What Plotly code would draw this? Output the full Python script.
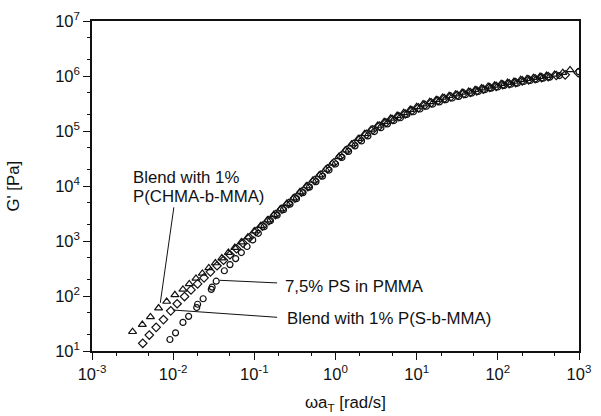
import plotly.graph_objects as go

# Blend with 1% P(CHMA-b-MMA)  (triangles)
chma_w = [0.00316, 0.00417, 0.00525, 0.00661, 0.00832, 0.0105, 0.0132, 0.0158, 0.0191, 0.0229,
          0.0275, 0.0331, 0.0398, 0.0479, 0.0575, 0.0692, 0.0832, 0.100, 0.120, 0.145,
          0.174, 0.209, 0.251, 0.302, 0.363, 0.437, 0.525, 0.631, 0.759, 0.912,
          1.10, 1.32, 1.58, 1.91, 2.29, 2.75, 3.31, 3.98, 4.79, 5.75,
          6.92, 8.32, 10.0, 12.0, 14.5, 17.4, 20.9, 25.1, 30.2, 36.3,
          43.7, 52.5, 63.1, 75.9, 91.2, 110, 132, 158, 191, 229,
          275, 331, 398, 501, 631, 776]
chma_g = [22.4, 30.2, 41.7, 60.3, 79.4, 105, 132, 166, 209, 257,
          324, 398, 490, 617, 759, 955, 1175, 1514, 1905, 2399,
          3020, 3802, 4786, 6026, 7762, 10000, 12590, 15850, 19950, 25700,
          33900, 44700, 57500, 72400, 89100, 107000, 126000, 148000, 170000, 191000,
          214000, 245000, 275000, 309000, 339000, 372000, 407000, 437000, 468000, 501000,
          525000, 562000, 603000, 646000, 676000, 724000, 759000, 794000, 851000, 891000,
          933000, 977000, 1020000, 1070000, 1150000, 1290000]

# Blend with 1% P(S-b-MMA)  (diamonds)
sb_w = [0.00422, 0.00508, 0.00617, 0.00759, 0.00933, 0.0112, 0.0138, 0.0166, 0.0200, 0.0240,
        0.0288, 0.0347, 0.0417, 0.0501, 0.0603, 0.0724, 0.0871, 0.105, 0.126, 0.151,
        0.182, 0.219, 0.263, 0.316, 0.380, 0.457, 0.550, 0.661, 0.794, 0.955,
        1.15, 1.38, 1.66, 2.00, 2.40, 2.88, 3.47, 4.17, 5.01, 6.03,
        7.24, 8.71, 10.5, 12.6, 15.1, 18.2, 21.9, 26.3, 31.6, 38.0,
        45.7, 55.0, 66.1, 79.4, 95.5, 115, 138, 166, 200, 240,
        288, 347, 417, 525, 676, 977]
sb_g = [13.8, 19.5, 26.9, 37.2, 53.7, 72.4, 97.7, 129, 166, 214,
        275, 355, 447, 562, 724, 912, 1148, 1479, 1862, 2344,
        3020, 3802, 4786, 6026, 7762, 9772, 12590, 15850, 20420, 26300,
        34700, 44700, 57500, 70800, 87100, 105000, 123000, 141000, 162000, 182000,
        204000, 234000, 263000, 295000, 324000, 355000, 389000, 417000, 447000, 479000,
        501000, 537000, 575000, 617000, 646000, 692000, 724000, 759000, 813000, 851000,
        891000, 933000, 977000, 1020000, 1050000, 1150000]

# 7,5% PS in PMMA  (circles)
ps_w = [0.00912, 0.0107, 0.0132, 0.0155, 0.0195, 0.0200, 0.0234, 0.0295, 0.0302, 0.0339,
        0.0427, 0.0501, 0.0589, 0.0692, 0.0813, 0.0955, 0.112, 0.132, 0.158, 0.191,
        0.229, 0.275, 0.331, 0.398, 0.479, 0.575, 0.692, 0.832, 1.00, 1.20,
        1.45, 1.74, 2.09, 2.51, 3.02, 3.63, 4.37, 5.25, 6.31, 7.59,
        9.12, 11.0, 13.2, 15.8, 19.1, 22.9, 27.5, 33.1, 39.8, 47.9,
        57.5, 69.2, 83.2, 100, 120, 145, 174, 209, 251, 302,
        363, 437, 575, 1000]
ps_g = [16.2, 21.4, 33.1, 42.7, 61.7, 70.8, 89.1, 132, 145, 186,
        288, 372, 479, 617, 794, 1047, 1380, 1820, 2344, 2951,
        3715, 4677, 5888, 7586, 9550, 12020, 15140, 19500, 25100, 33100,
        42700, 53700, 66100, 81300, 97700, 115000, 135000, 155000, 174000, 200000,
        224000, 251000, 282000, 309000, 339000, 372000, 398000, 427000, 457000, 490000,
        525000, 562000, 603000, 631000, 676000, 708000, 741000, 794000, 832000, 871000,
        912000, 955000, 1020000, 1200000]

x_tickvals = [1e-3, 1e-2, 1e-1, 1e0, 1e1, 1e2, 1e3]
x_ticktext = ["10<sup>-3</sup>", "10<sup>-2</sup>", "10<sup>-1</sup>", "10<sup>0</sup>",
              "10<sup>1</sup>", "10<sup>2</sup>", "10<sup>3</sup>"]
y_tickvals = [1e1, 1e2, 1e3, 1e4, 1e5, 1e6, 1e7]
y_ticktext = ["10<sup>1</sup>", "10<sup>2</sup>", "10<sup>3</sup>", "10<sup>4</sup>",
              "10<sup>5</sup>", "10<sup>6</sup>", "10<sup>7</sup>"]

FONT = "Liberation Sans, Arial, sans-serif"
BLACK = "#111111"

fig = go.Figure()
fig.add_trace(go.Scatter(x=ps_w, y=ps_g, mode="markers",
                         marker=dict(symbol="circle-open", size=6, color=BLACK, line=dict(width=1.2)),
                         name="7,5% PS in PMMA"))
fig.add_trace(go.Scatter(x=sb_w, y=sb_g, mode="markers",
                         marker=dict(symbol="diamond-open", size=6.5, color=BLACK, line=dict(width=1.2)),
                         name="Blend with 1% P(S-b-MMA)"))
fig.add_trace(go.Scatter(x=chma_w, y=chma_g, mode="markers",
                         marker=dict(symbol="triangle-up-open", size=7, color=BLACK, line=dict(width=1.2)),
                         name="Blend with 1% P(CHMA-b-MMA)"))

# leader lines (data coordinates)
leaders = [
    ((0.0102, 4100), (0.00694, 75)),
    ((0.0372, 193), (0.191, 173)),
    ((0.00995, 55.6), (0.191, 41)),
]
for (x0, y0), (x1, y1) in leaders:
    fig.add_shape(type="line", xref="x", yref="y", x0=x0, y0=y0, x1=x1, y1=y1,
                  line=dict(color=BLACK, width=1))

ann_font = dict(family=FONT, size=16.8, color=BLACK)
fig.add_annotation(x=-2.524, y=4.161, xref="x", yref="y", text="Blend with 1%",
                   showarrow=False, xanchor="left", yanchor="middle", font=ann_font)
fig.add_annotation(x=-2.524, y=3.816, xref="x", yref="y", text="P(CHMA-b-MMA)",
                   showarrow=False, xanchor="left", yanchor="middle", font=ann_font)
fig.add_annotation(x=-0.652, y=2.18, xref="x", yref="y", text="7,5% PS in PMMA",
                   showarrow=False, xanchor="left", yanchor="middle", font=ann_font)
fig.add_annotation(x=-0.619, y=1.584, xref="x", yref="y", text="Blend with 1% P(S-b-MMA)",
                   showarrow=False, xanchor="left", yanchor="middle", font=ann_font)

# axis titles
fig.add_annotation(x=0.521, y=-0.158, xref="paper", yref="paper", text="ωa<sub>T</sub> [rad/s]",
                   showarrow=False, xanchor="center", yanchor="middle", font=ann_font)
fig.add_annotation(x=-0.163, y=0.5, xref="paper", yref="paper", text="G' [Pa]", textangle=-90,
                   showarrow=False, xanchor="center", yanchor="middle", font=ann_font)

axis_common = dict(type="log", showgrid=False, zeroline=False, showline=True, linecolor=BLACK,
                   linewidth=1.5, mirror=True, ticks="outside", ticklen=7, tickwidth=1.2,
                   tickcolor=BLACK, tickfont=dict(family=FONT, size=16.5, color=BLACK),
                   ticklabeloverflow="allow",
                   minor=dict(ticks="outside", ticklen=3, tickcolor=BLACK, tickwidth=0.8, showgrid=False))

fig.update_xaxes(range=[-3, 3], tickvals=x_tickvals, ticktext=x_ticktext, **axis_common)
fig.update_yaxes(range=[1, 7], tickvals=y_tickvals, ticktext=y_ticktext, **axis_common)

fig.update_layout(width=601, height=416, margin=dict(l=92, r=10, t=15, b=65),
                  paper_bgcolor="white", plot_bgcolor="white", showlegend=False,
                  font=dict(family=FONT, color=BLACK))

fig.write_html("out.html")
